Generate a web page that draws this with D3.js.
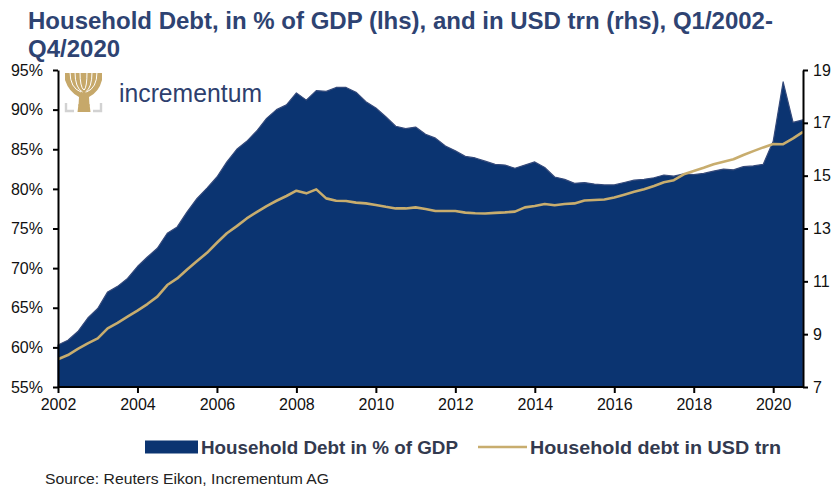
<!DOCTYPE html>
<html><head><meta charset="utf-8">
<script src="https://cdn.jsdelivr.net/npm/d3@7"></script>
<style>
html,body{margin:0;padding:0;background:#fff;}
svg{display:block;font-family:"Liberation Sans",Arial,sans-serif;}
</style></head>
<body>
<svg id="chart" width="838" height="486"></svg>
<script>
// ---- DATA (quarterly, Q1/2002 .. Q4/2020) ----
const years = [2002,2003,2004,2005,2006,2007,2008,2009,2010,2011,2012,2013,2014,2015,2016,2017,2018,2019,2020];
const quarters = ["Q1","Q2","Q3","Q4"];
const categories = years.flatMap(y => quarters.map(q => q + "/" + y));

const debtPctGDP = [
  60.3,60.9,62.0,63.7, 64.9,67.0,67.7,68.7, 70.2,71.4,72.5,74.4, 75.2,77.1,78.8,80.1,
  81.5,83.4,85.0,86.0, 87.3,88.9,90.0,90.6, 92.1,91.2,92.4,92.3, 92.8,92.8,92.2,91.0,
  90.2,89.1,87.9,87.6, 87.8,86.9,86.4,85.4, 84.8,84.1,83.9,83.5, 83.1,83.0,82.6,83.0,
  83.4,82.7,81.5,81.2, 80.7,80.8,80.6,80.5, 80.5,80.8,81.1,81.2, 81.4,81.75,81.6,81.9,
  81.8,81.95,82.25,82.5, 82.4,82.8,82.9,83.1, 86.0,93.5,88.4,88.7
];
const debtUSDtrn = [
  8.05,8.21,8.44,8.65, 8.84,9.22,9.43,9.66, 9.89,10.14,10.42,10.86, 11.11,11.45,11.77,12.08,
  12.46,12.82,13.09,13.38, 13.62,13.85,14.05,14.23, 14.43,14.33,14.48,14.14, 14.05,14.04,13.98,13.95,
  13.89,13.82,13.76,13.76, 13.80,13.74,13.66,13.66, 13.66,13.60,13.58,13.57, 13.59,13.61,13.64,13.80,
  13.85,13.93,13.88,13.93, 13.95,14.06,14.08,14.10, 14.17,14.28,14.39,14.49, 14.61,14.75,14.83,15.05,
  15.18,15.30,15.43,15.53, 15.62,15.78,15.93,16.07, 16.20,16.19,16.41,16.66
];
const leftTicks = [55,60,65,70,75,80,85,90,95];
const rightTicks = [7,9,11,13,15,17,19];
const xTickLabels = ["2002","2004","2006","2008","2010","2012","2014","2016","2018","2020"];

const titleLines = ["Household Debt, in % of GDP (lhs), and in USD trn (rhs), Q1/2002-","Q4/2020"];
const seriesNames = ["Household Debt in % of GDP","Household debt in USD trn"];
const sourceText = "Source: Reuters Eikon, Incrementum AG";

// ---- LAYOUT ----
const C_AREA = "#0b3471", C_LINE = "#c8ad6e", C_TITLE = "#2e4372", C_TEXT = "#111";
const L = 58, R = 803, T = 70, B = 387;
const svg = d3.select("#chart");

const x = d3.scaleLinear().domain([0, categories.length - 1]).range([L, R]);
const yL = d3.scaleLinear().domain([55, 95]).range([B, T]);
const yR = d3.scaleLinear().domain([7, 19]).range([B, T]);

// title
svg.append("g").selectAll("text").data(titleLines).join("text")
  .attr("x", 28).attr("y", (d,i) => 29 + i*28)
  .attr("fill", C_TITLE).attr("font-size", 24).attr("font-weight", "bold")
  .text(d => d);

// area
const area = d3.area().x((d,i) => x(i)).y0(B).y1(d => yL(d));
svg.append("path").datum(debtPctGDP).attr("d", area)
  .attr("fill", C_AREA).attr("stroke", "#34497a").attr("stroke-width", 1.2).attr("stroke-linejoin","round");

// line
const line = d3.line().x((d,i) => x(i)).y(d => yR(d));
svg.append("path").datum(debtUSDtrn).attr("d", line)
  .attr("fill", "none").attr("stroke", C_LINE).attr("stroke-width", 2.6).attr("stroke-linejoin","round");

// axes
const xTickIdx = xTickLabels.map(l => categories.indexOf("Q1/" + l));
const axB = svg.append("g").attr("transform", `translate(0,${B})`)
  .call(d3.axisBottom(x).tickValues(xTickIdx).tickFormat((d,i) => xTickLabels[i]).tickSize(6).tickSizeOuter(0));
const axL = svg.append("g").attr("transform", `translate(${L},0)`)
  .call(d3.axisLeft(yL).tickValues(leftTicks).tickFormat(d => d + "%").tickSize(5).tickSizeOuter(0));
const axR = svg.append("g").attr("transform", `translate(${R},0)`)
  .call(d3.axisRight(yR).tickValues(rightTicks).tickFormat(d3.format("d")).tickSize(5).tickSizeOuter(0));
[axB, axL, axR].forEach(a => {
  a.select(".domain").attr("stroke", "#000").attr("stroke-width", 2);
  a.selectAll(".tick line").attr("stroke", "#000").attr("stroke-width", 2);
  a.selectAll(".tick text").attr("fill", C_TEXT).attr("font-size", 16)
    .attr("font-family", '"Liberation Sans",Arial,sans-serif');
});
axL.selectAll(".tick text").attr("x", -15);
axR.selectAll(".tick text").attr("x", 10);
axB.selectAll(".tick text").attr("y", 12);
axB.select(".domain").attr("d", `M${L},0H${R}`);

// logo
const logo = svg.append("g");
const gold = "#c6a86a";
logo.append("path")
  .attr("d", "M65,73 L65,80 Q69,92 79,97 L78.5,106 L89.5,106 L89,97 Q99,92 102,80 L102,73 Z")
  .attr("fill", gold);
logo.append("path").attr("d", "M78.5,104 L77.5,112 L90.5,112 L89.5,104 Z").attr("fill", gold);
// branch gaps
[[70,81,92],[75,82.5,92],[80,83.8,90],[87,84.2,90],[92,85.5,92],[97,86.5,92]]
  .forEach(p => logo.append("path")
    .attr("d", `M${p[0]},72 Q${p[0]},${(72+p[2])/2+6} ${p[1]},${p[2]}`)
    .attr("stroke", "#fff").attr("stroke-width", 1).attr("fill", "none"));
logo.append("path").attr("d", "M66,103 V111 H74 M101,103 V111 H93")
  .attr("stroke", "#d2d2d2").attr("stroke-width", 2.4).attr("fill", "none");
logo.append("text").attr("x", 119).attr("y", 102).attr("font-size", 25)
  .attr("fill", "#2e3f6e").attr("textLength", 143).attr("lengthAdjust", "spacingAndGlyphs")
  .text("incrementum");

// legend
const lg = svg.append("g");
const LY = 447;
lg.append("rect").attr("x", 145).attr("y", LY - 6.5).attr("width", 53).attr("height", 13).attr("fill", C_AREA);
lg.append("text").attr("x", 201).attr("y", LY + 6.5).attr("font-size", 18).attr("font-weight", "bold")
  .attr("fill", "#333a4f").attr("textLength", 257).attr("lengthAdjust", "spacingAndGlyphs").text(seriesNames[0]);
lg.append("line").attr("x1", 478).attr("x2", 527).attr("y1", LY).attr("y2", LY)
  .attr("stroke", C_LINE).attr("stroke-width", 2.6);
lg.append("text").attr("x", 530).attr("y", LY + 6.5).attr("font-size", 18).attr("font-weight", "bold")
  .attr("fill", "#333a4f").attr("textLength", 251).attr("lengthAdjust", "spacingAndGlyphs").text(seriesNames[1]);

// source
svg.append("text").attr("x", 45).attr("y", 484).attr("font-size", 15).attr("fill", "#222")
  .attr("textLength", 284).attr("lengthAdjust", "spacingAndGlyphs").text(sourceText);
</script>
</body></html>
